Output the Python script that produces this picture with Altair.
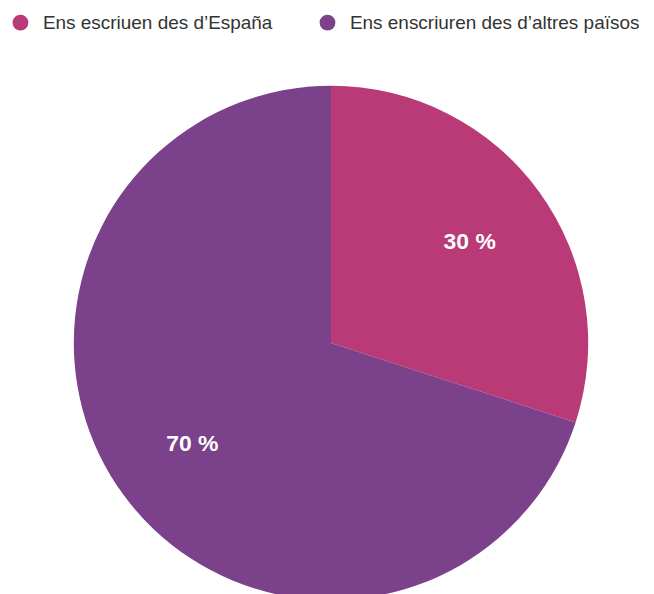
import altair as alt
import pandas as pd

categories = ["Ens escriuen des d\u2019Espa\u00f1a", "Ens enscriuren des d\u2019altres pa\u00efsos"]
values = [30, 70]
labels = ["30 %", "70 %"]
colors = ["#BA3A77", "#7B418A"]

df = pd.DataFrame({"cat": categories, "val": values, "label": labels, "ord": [0, 1]})

cx, cy, R = 324, 335, 258

base = alt.Chart(df).encode(
    theta=alt.Theta("val:Q", stack=True),
    order=alt.Order("ord:Q"),
)

arcs = base.mark_arc(outerRadius=R, stroke=None).encode(
    x=alt.value(cx),
    y=alt.value(cy),
    color=alt.Color(
        "cat:N",
        scale=alt.Scale(domain=categories, range=colors),
        sort=categories,
        legend=alt.Legend(
            title=None,
            orient="none",
            legendX=3,
            legendY=4,
            direction="horizontal",
            symbolType="circle",
            symbolSize=250,
            symbolStrokeWidth=0,
            labelFont="Liberation Sans",
            labelFontSize=19,
            labelColor="#333333",
            labelOffset=13,
            labelLimit=400,
            columnPadding=45,
        ),
    ),
)

text = base.mark_text(
    radius=172,
    font="Liberation Sans",
    fontSize=23,
    fontWeight="bold",
    color="white",
).encode(
    x=alt.value(cx),
    y=alt.value(cy),
    text="label:N",
)

chart = (arcs + text).properties(
    width=640,
    height=620,
    autosize=alt.AutoSizeParams(type="none"),
    padding=0,
).configure_view(stroke=None)

chart.save("out.html", embed_options={"renderer": "svg", "actions": False})
